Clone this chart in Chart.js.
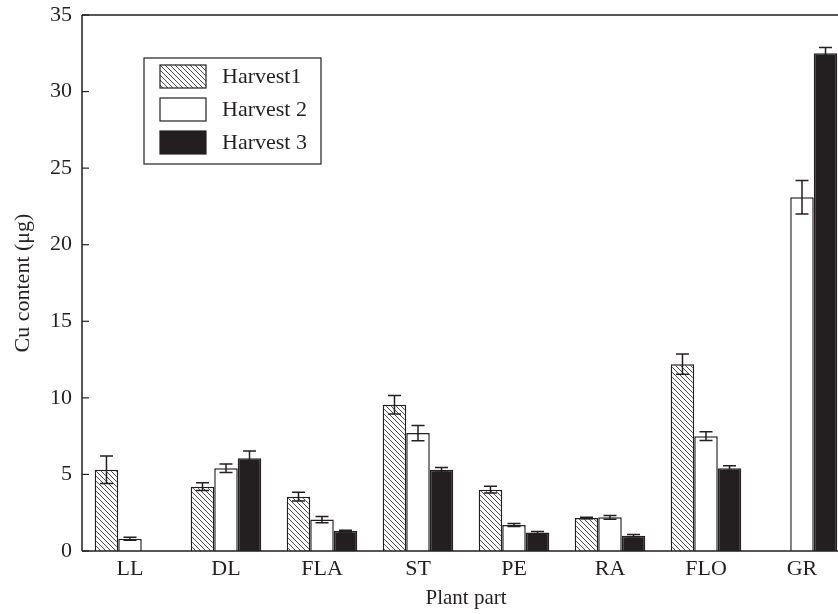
<!DOCTYPE html>
<html>
<head>
<meta charset="utf-8">
<script src="https://cdn.jsdelivr.net/npm/chart.js@4"></script>
<style>
  html, body { margin: 0; padding: 0; background: #fff; overflow: hidden; }
  #wrap { width: 851px; height: 614px; }
</style>
</head>
<body>
<div id="wrap"><canvas id="grafico" width="851" height="614"></canvas></div>
<script>
const categorias = ["LL", "DL", "FLA", "ST", "PE", "RA", "FLO", "GR"];
const cosecha1 = [5.3, 4.2, 3.55, 9.55, 4.0, 2.15, 12.2, null];
const cosecha2 = [0.8, 5.4, 2.05, 7.7, 1.7, 2.2, 7.5, 23.1];
const cosecha3 = [null, 6.05, 1.3, 5.3, 1.2, 1.0, 5.4, 32.5];
const error1 = [0.9, 0.25, 0.28, 0.6, 0.22, 0.05, 0.66, null];
const error2 = [0.1, 0.28, 0.2, 0.5, 0.1, 0.12, 0.28, 1.1];
const error3 = [null, 0.48, 0.06, 0.15, 0.08, 0.07, 0.17, 0.37];
const etiquetasY = [0, 5, 10, 15, 20, 25, 30, 35];

const NEGRO = "#231f20";
const FUENTE = "'Liberation Serif', 'Times New Roman', serif";

function rayado() {
  const c = document.createElement("canvas");
  c.width = 5; c.height = 5;
  const g = c.getContext("2d");
  g.fillStyle = "#fff";
  g.fillRect(0, 0, 5, 5);
  g.strokeStyle = "#333";
  g.lineWidth = 0.9;
  g.beginPath();
  g.moveTo(-1, -1); g.lineTo(6, 6);
  g.moveTo(-1, 4); g.lineTo(1, 6);
  g.moveTo(4, -1); g.lineTo(6, 1);
  g.stroke();
  return document.getElementById("grafico").getContext("2d").createPattern(c, "repeat");
}

const barrasError = {
  id: "barrasError",
  afterDatasetsDraw(chart) {
    const ctx = chart.ctx;
    const y = chart.scales.y;
    ctx.save();
    ctx.strokeStyle = NEGRO;
    ctx.lineWidth = 1.5;
    chart.data.datasets.forEach((ds, i) => {
      const meta = chart.getDatasetMeta(i);
      meta.data.forEach((bar, j) => {
        const v = ds.data[j], e = ds.errores[j];
        if (v == null || e == null) return;
        const yt = y.getPixelForValue(v + e);
        const yb = y.getPixelForValue(v - e);
        ctx.beginPath();
        ctx.moveTo(bar.x, yt); ctx.lineTo(bar.x, yb);
        ctx.moveTo(bar.x - 6.5, yt); ctx.lineTo(bar.x + 6.5, yt);
        ctx.moveTo(bar.x - 6.5, yb); ctx.lineTo(bar.x + 6.5, yb);
        ctx.stroke();
      });
    });
    ctx.restore();
  }
};

const marco = {
  id: "marco",
  afterDraw(chart) {
    const ctx = chart.ctx;
    const a = chart.chartArea;
    const y = chart.scales.y;
    ctx.save();
    ctx.strokeStyle = NEGRO;
    ctx.lineWidth = 1.5;
    ctx.beginPath();
    ctx.moveTo(a.left, a.top); ctx.lineTo(a.right, a.top);
    ctx.moveTo(a.left, a.top); ctx.lineTo(a.left, a.bottom);
    ctx.moveTo(a.left, a.bottom); ctx.lineTo(a.right, a.bottom);
    ctx.stroke();
    // marcas hacia dentro
    ctx.lineWidth = 1.2;
    etiquetasY.forEach(t => {
      const py = y.getPixelForValue(t);
      ctx.beginPath();
      ctx.moveTo(a.left, py); ctx.lineTo(a.left + 7, py);
      ctx.stroke();
    });
    // leyenda
    const lx = 144, ly = 58, lw = 177, lh = 106;
    ctx.lineWidth = 1.2;
    ctx.strokeRect(lx, ly, lw, lh);
    ctx.font = "22px " + FUENTE;
    ctx.textBaseline = "middle";
    chart.data.datasets.forEach((ds, i) => {
      const sy = 65 + i * 33;
      ctx.fillStyle = ds.backgroundColor;
      ctx.fillRect(160, sy, 46, 23);
      ctx.strokeStyle = NEGRO;
      ctx.lineWidth = 1.2;
      ctx.strokeRect(160, sy, 46, 23);
      ctx.fillStyle = NEGRO;
      ctx.fillText(ds.label, 222, sy + 12);
    });
    ctx.restore();
  }
};

new Chart(document.getElementById("grafico"), {
  type: "bar",
  data: {
    labels: categorias,
    datasets: [
      { label: "Harvest1", data: cosecha1, errores: error1, backgroundColor: rayado(), borderColor: NEGRO, borderWidth: 1.5 },
      { label: "Harvest 2", data: cosecha2, errores: error2, backgroundColor: "#ffffff", borderColor: NEGRO, borderWidth: 1.5 },
      { label: "Harvest 3", data: cosecha3, errores: error3, backgroundColor: NEGRO, borderColor: NEGRO, borderWidth: 1.5 }
    ]
  },
  options: {
    responsive: false,
    animation: false,
    layout: { padding: { top: 15, right: 1, left: 0, bottom: 0 } },
    datasets: { bar: { barPercentage: 1, categoryPercentage: 0.735 } },
    plugins: { legend: { display: false }, tooltip: { enabled: false } },
    scales: {
      x: {
        grid: { display: false, drawTicks: false },
        border: { display: false },
        ticks: { color: NEGRO, font: { family: FUENTE, size: 22 }, padding: 5, maxRotation: 0 },
        title: { display: true, text: "Plant part", color: NEGRO, font: { family: FUENTE, size: 21 }, padding: { top: 0, bottom: 3 } },
        afterFit(s) { s.height = 63; s.paddingLeft = 0; s.paddingRight = 0; }
      },
      y: {
        min: 0, max: 35,
        afterBuildTicks(s) { s.ticks = etiquetasY.map(v => ({ value: v })); },
        grid: { display: false, drawTicks: false },
        border: { display: false },
        ticks: { color: NEGRO, font: { family: FUENTE, size: 22 }, padding: 10 },
        title: { display: true, text: "Cu content (μg)", color: NEGRO, font: { family: FUENTE, size: 22 }, padding: { top: 10, bottom: 0 } },
        afterFit(s) { s.width = 82; s.paddingTop = 0; s.paddingBottom = 0; }
      }
    }
  },
  plugins: [barrasError, marco]
});
</script>
</body>
</html>
